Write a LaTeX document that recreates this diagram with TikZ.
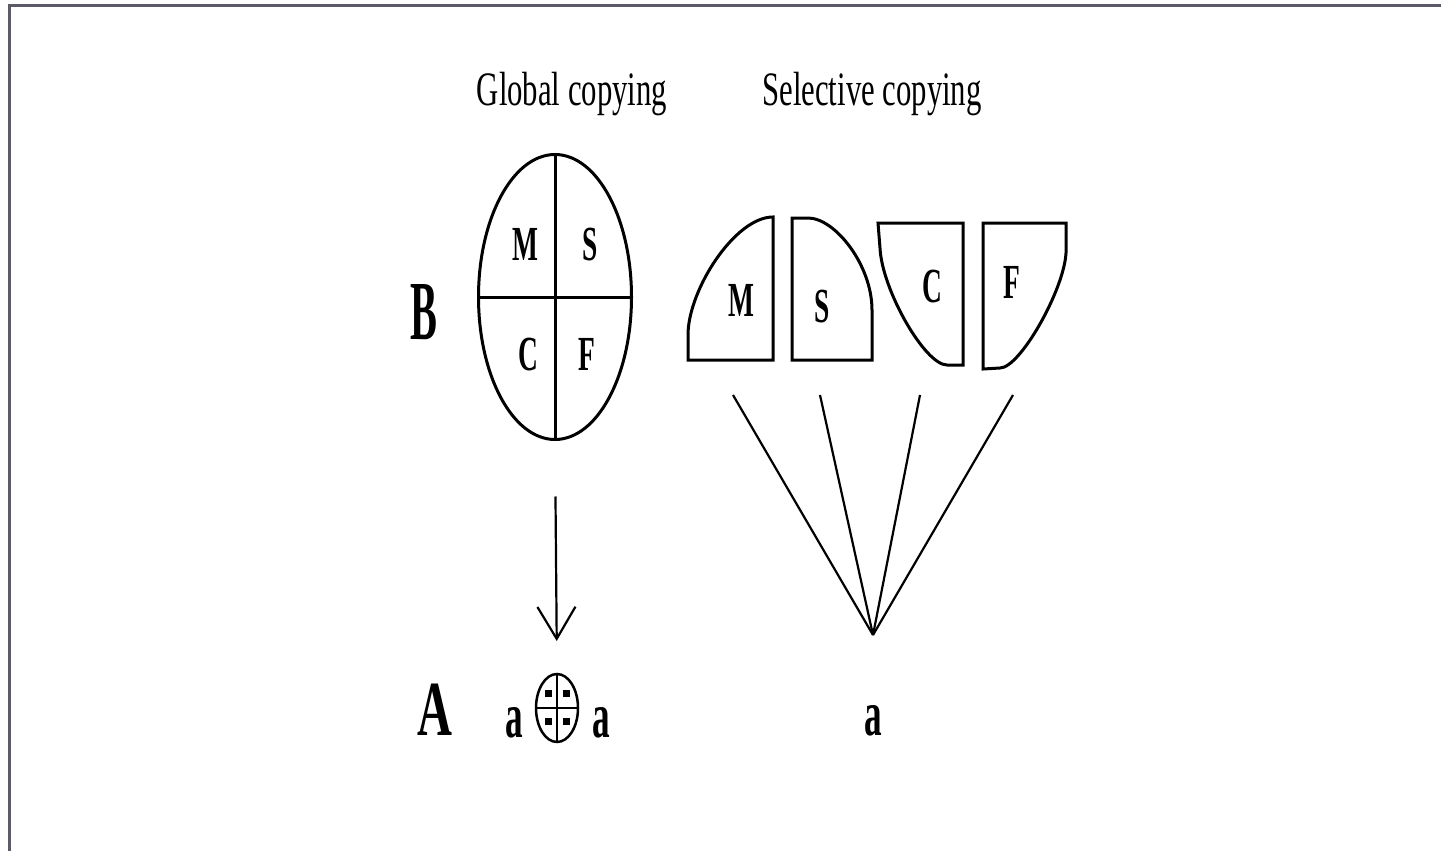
\documentclass[tikz,border=0pt]{standalone}
\usepackage{graphicx}
\usepackage{fontspec}
\setmainfont{Liberation Serif}
\usetikzlibrary{shapes.geometric,arrows.meta}
\definecolor{framegray}{RGB}{90,90,104}
\newcommand{\sqz}[2]{\scalebox{#1}[1]{#2}}
\begin{document}
\begin{tikzpicture}[x=1pt,y=-1pt,
  title/.style={inner sep=0,anchor=base,font=\fontsize{48}{48}\selectfont},
  part/.style={inner sep=0,anchor=base,font=\fontsize{49}{49}\selectfont\bfseries},
  big letter/.style={inner sep=0,anchor=base,font=\fontsize{84}{84}\selectfont\bfseries},
  small a/.style={inner sep=0,anchor=base,font=\fontsize{64}{64}\selectfont\bfseries},
  shapeline/.style={draw=black,line width=3pt,line join=miter},
  fan/.style={draw=black,line width=2.2pt},
  dot/.style={fill=black}]
\useasboundingbox (0,0) rectangle (1441,851);
% frame
\draw[framegray,line width=3pt] (9,851) -- (9,6) -- (1441,6);
% titles
\node[title] (tg) at (572,105) {\sqz{0.64}{Global copying}};
\node[title] (ts) at (872,105) {\sqz{0.64}{Selective copying}};
% big ellipse
\node[draw,ellipse,line width=3pt,minimum width=153pt,minimum height=285pt,inner sep=0,outer sep=0] (big) at (555,297) {};
\draw[line width=3pt] (big.north) -- (big.south);
\draw[line width=3pt] (big.west) -- (big.east);
\node[part] (bM) at (525,260) {\sqz{0.56}{M}};
\node[part] (bS) at (590,260) {\sqz{0.56}{S}};
\node[part] (bC) at (528,370) {\sqz{0.56}{C}};
\node[part] (bF) at (587,370) {\sqz{0.56}{F}};
\node[big letter] (B) at (424,339) {\sqz{0.48}{B}};
% small ellipse
\node[draw,ellipse,line width=2.5pt,minimum width=42pt,minimum height=68pt,inner sep=0,outer sep=0] (small) at (557,708) {};
\draw[line width=2.5pt] (small.north) -- (small.south);
\draw[line width=2.5pt] (small.west) -- (small.east);
\fill[dot] (544.5,689.5) rectangle ++(7,7);
\fill[dot] (562.5,689.5) rectangle ++(7,7);
\fill[dot] (544.5,717.5) rectangle ++(7,7);
\fill[dot] (562.5,717.5) rectangle ++(7,7);
\node[small a] (al) at (514,737) {\sqz{0.55}{a}};
\node[small a] (ar) at (601,737) {\sqz{0.55}{a}};
\node[big letter,font=\fontsize{78}{78}\selectfont\bfseries] (A) at (435,735) {\sqz{0.62}{A}};
% arrow
\draw[line width=2.2pt,-{Straight Barb[length=32pt,width=38pt]},shorten <=57pt,shorten >=33pt] (big.south) -- (small.north);
% selective pieces
\draw[shapeline] (773,217) -- (773,360) -- (688,360) -- (688,335)
  .. controls (688,290) and (735,217) .. (773,217) -- cycle;
\draw[shapeline] (792,218) -- (808,218)
  .. controls (835,218) and (872,265) .. (872,310) -- (872,360) -- (792,360) -- cycle;
\draw[shapeline] (878,223) -- (963,223) -- (963,365) -- (947,365)
  .. controls (925,365) and (882,290) .. (880,248) -- cycle;
\draw[shapeline] (983,223) -- (1066,223) -- (1066,253)
  .. controls (1064,290) and (1020,368) .. (1000,368) -- (983,369) -- cycle;
\node[part] (pM) at (741,316) {\sqz{0.56}{M}};
\node[part] (pS) at (822,322) {\sqz{0.56}{S}};
\node[part] (pC) at (932,302) {\sqz{0.56}{C}};
\node[part] (pF) at (1012,298) {\sqz{0.56}{F}};
% fan
\coordinate (apex) at (873,635);
\coordinate (f1) at (733,395);
\coordinate (f2) at (820,395);
\coordinate (f3) at (920,395);
\coordinate (f4) at (1013,395);
\draw[fan] (f1) -- (apex);
\draw[fan] (f2) -- (apex);
\draw[fan] (f3) -- (apex);
\draw[fan] (f4) -- (apex);
\node[small a] (ab) at (873,735) {\sqz{0.55}{a}};
\end{tikzpicture}
\end{document}
